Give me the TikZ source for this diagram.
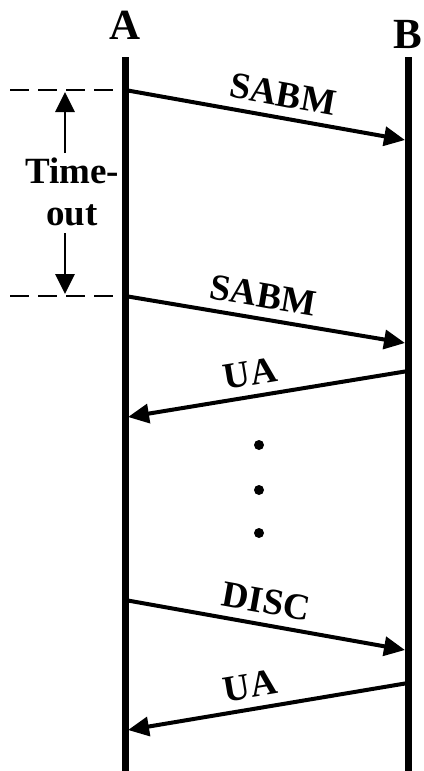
\documentclass[tikz,border=0pt]{standalone}
\usepackage{fontspec}
\setmainfont{Liberation Serif}
\usetikzlibrary{arrows.meta}
\begin{document}
\begin{tikzpicture}[x=1pt,y=-1pt,
  life/.style={line width=7pt},
  msg/.style={line width=4pt,-{Triangle[length=21pt,width=19pt]}},
  lbl/.style={font=\fontsize{37}{42}\selectfont\bfseries,sloped,above,inner sep=9pt},
  hdr/.style={font=\fontsize{43}{48}\selectfont\bfseries,anchor=base,inner sep=0pt},
  tolbl/.style={font=\fontsize{37}{42}\selectfont\bfseries,anchor=base,inner sep=0pt},
  tline/.style={line width=2pt,dash pattern=on 19pt off 9pt},
  tarrow/.style={line width=2.8pt,-{Triangle[length=20pt,width=19pt]}},
  dotn/.style={circle,fill,inner sep=0pt,minimum size=10pt}]
\useasboundingbox (0,0) rectangle (423,771);
% lifelines
\coordinate (Atop) at (125,57);
\coordinate (Abot) at (125,771);
\coordinate (Btop) at (408,57);
\coordinate (Bbot) at (408,771);
\draw[life] (Atop) -- (Abot);
\draw[life] (Btop) -- (Bbot);
\node[hdr] (A) at (125,39) {A};
\node[hdr] (B) at (408,48) {B};
% message end points
\coordinate (a1) at (125,90);   \coordinate (b1) at (405,140);
\coordinate (a2) at (125,296);  \coordinate (b2) at (405,343);
\coordinate (b3) at (408,371);  \coordinate (a3) at (128,417);
\coordinate (a4) at (125,600);  \coordinate (b4) at (405,650);
\coordinate (b5) at (408,683);  \coordinate (a5) at (128,730);
% messages
\draw[msg] (a1) -- node[lbl,pos=0.55] (l1) {SABM} (b1);
\draw[msg] (a2) -- node[lbl,pos=0.48] (l2) {SABM} (b2);
\draw[msg] (b3) -- node[lbl,pos=0.55] (l3) {UA} (a3);
\draw[msg] (a4) -- node[lbl,pos=0.49] (l4) {DISC} (b4);
\draw[msg] (b5) -- node[lbl,pos=0.55] (l5) {UA} (a5);
% timeout
\coordinate (d1) at (10,90);
\coordinate (d2) at (10,296);
\draw[tline] (d1) -- (a1);
\draw[tline] (d2) -- (a2);
\node[tolbl] (t1) at (72,183) {Time-};
\node[tolbl] (t2) at (72,225) {out};
\coordinate (u0) at (65,153);
\coordinate (u1) at (65,92);
\coordinate (w0) at (65,233);
\coordinate (w1) at (65,294);
\draw[tarrow] (u0) -- (u1);
\draw[tarrow] (w0) -- (w1);
% dots
\node[dotn] (p1) at (259,445) {};
\node[dotn] (p2) at (259,490) {};
\node[dotn] (p3) at (259,533) {};
\end{tikzpicture}
\end{document}
